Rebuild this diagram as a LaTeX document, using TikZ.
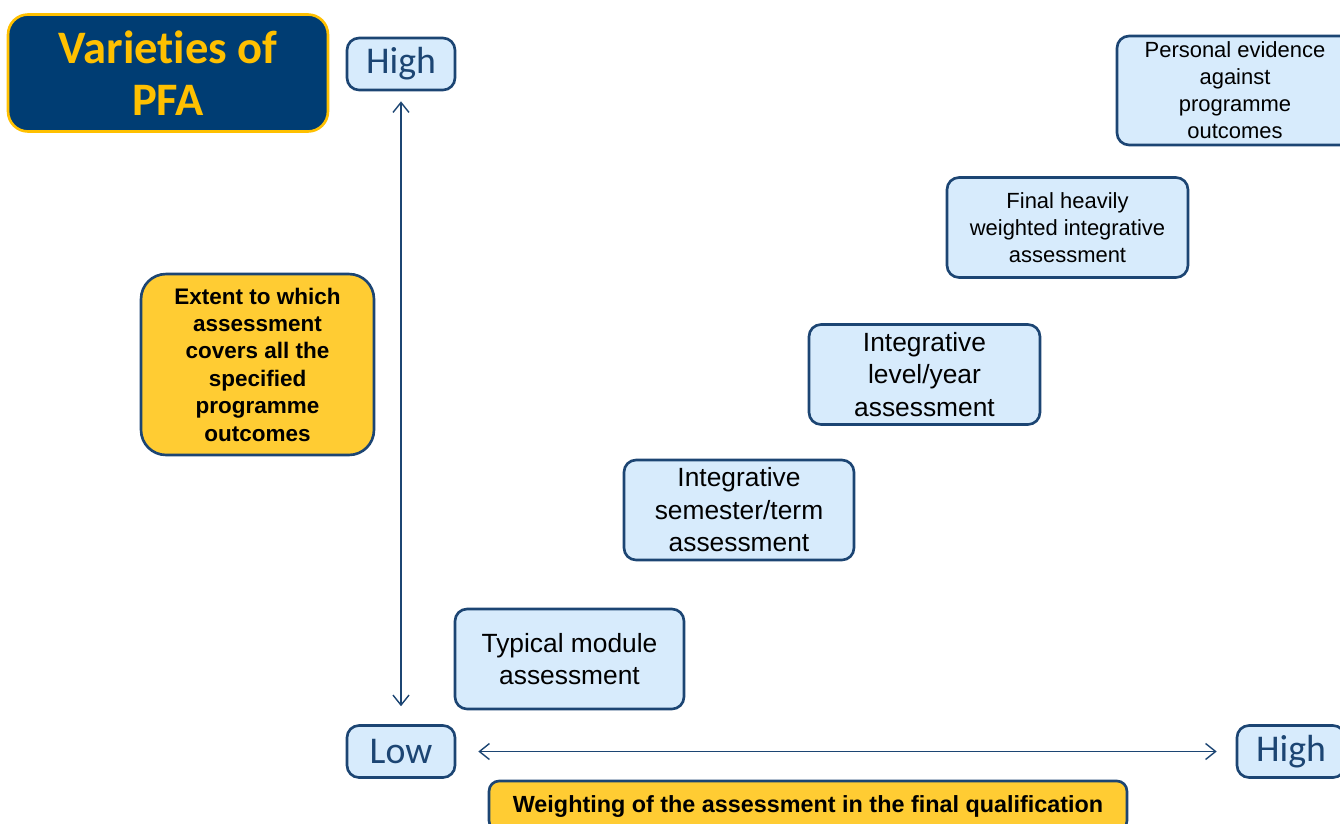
\documentclass[tikz,border=0pt]{standalone}
\usepackage{fontspec}
\setmainfont{Liberation Sans}
\newfontfamily\calibri[Ligatures=NoCommon]{Carlito}
\usetikzlibrary{arrows.meta}
\definecolor{pfa_navy}{RGB}{0,61,115}
\definecolor{pfa_gold}{RGB}{255,192,0}
\definecolor{pfa_yellow}{RGB}{255,204,51}
\definecolor{pfa_line}{RGB}{28,69,115}
\definecolor{pfa_light}{RGB}{215,235,252}
\tikzstyle{titlebox}=[rectangle,rounded corners=0.4cm,fill=pfa_navy,draw=pfa_gold,
  line width=1.5pt,align=center,text=pfa_gold,minimum width=6.4cm,minimum height=2.34cm,
  font=\calibri\bfseries\fontsize{26.5}{29.5}\selectfont]
\tikzstyle{lvl}=[rectangle,rounded corners=0.24cm,fill=pfa_light,draw=pfa_line,
  line width=1.5pt,inner sep=2pt,minimum width=2.16cm,minimum height=1.04cm,
  text=pfa_line,font=\calibri\fontsize{21.5}{24}\selectfont]
\tikzstyle{stage}=[rectangle,rounded corners=0.24cm,fill=pfa_light,draw=pfa_line,
  line width=1.5pt,align=center,inner sep=2pt,minimum height=2cm,
  font=\fontsize{15}{18.5}\selectfont]
\tikzstyle{smallstage}=[stage,font=\fontsize{12.5}{15.4}\selectfont]
\tikzstyle{axislabel}=[rectangle,rounded corners=0.5cm,fill=pfa_yellow,draw=pfa_line,
  line width=1.5pt,align=center,inner sep=2pt,font=\bfseries\fontsize{12.8}{15.6}\selectfont]
\tikzstyle{axisarrow}=[draw=pfa_line,line width=0.8pt,
  {Straight Barb[length=2mm,width=3.2mm]}-{Straight Barb[length=2mm,width=3.2mm]}]

\begin{document}
\begin{tikzpicture}[x=0.02cm,y=-0.02cm]
    \useasboundingbox (0,0) rectangle (1340,823);
    \node [style=titlebox] (title) at (168,73) {Varieties of\\PFA};
    \node [style=lvl] (highy) at (401,64) {High};
    \node [style=lvl] (low) at (401,751.5) {Low};
    \node [style=lvl] (highx) at (1291,751.5) {High};
    \node [style=axislabel,minimum width=4.66cm,minimum height=3.62cm] (extent) at (257.5,364.5)
      {Extent to which\\assessment\\covers all the\\specified\\programme\\outcomes};
    \node [style=axislabel,minimum width=12.76cm,minimum height=1cm,rounded corners=0.2cm,
      font=\bfseries\fontsize{13.3}{15.6}\selectfont] (weight) at (808,806)
      {Weighting of the assessment in the final qualification};
    \node [style=stage,minimum width=4.58cm] (module) at (569.5,659) {Typical module\\assessment};
    \node [style=stage,minimum width=4.6cm] (term) at (739,510) {Integrative\\semester/term\\assessment};
    \node [style=stage,minimum width=4.62cm] (year) at (924.5,374.5) {Integrative\\level/year\\assessment};
    \node [style=smallstage,minimum width=4.82cm] (final) at (1067.5,227.5) {Final heavily\\weighted integrative\\assessment};
    \node [style=smallstage,minimum width=4.72cm,minimum height=2.18cm] (personal) at (1235,90.5)
      {Personal evidence\\against\\programme\\outcomes};
    \draw [style=axisarrow,shorten <=0.2cm,shorten >=0.36cm] (highy.south) to (low.north);
    \draw [style=axisarrow,shorten <=0.44cm,shorten >=0.38cm] (low.east) to (highx.west);
  \end{tikzpicture}
\end{document}
